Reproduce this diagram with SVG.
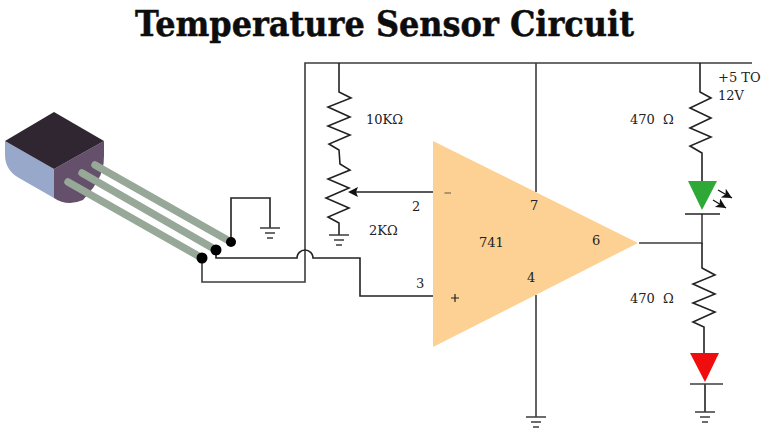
<svg xmlns="http://www.w3.org/2000/svg" width="773" height="431" viewBox="0 0 773 431">
<style>
.w{fill:none;stroke:#222;stroke-width:1.6}
.g{fill:none;stroke:#3c3c3c;stroke-width:1.6}
.t{font-family:"DejaVu Serif","Liberation Serif",serif;font-size:13px;fill:#222;white-space:pre}
.lead{stroke:#97a899;stroke-width:7.500;stroke-linecap:round}
.ar{stroke:#111;stroke-width:1.300;marker-end:url(#ah)}
</style>
<defs>
<marker id="ah" markerUnits="userSpaceOnUse" markerWidth="12" markerHeight="12" refX="10" refY="5" orient="auto"><path d="M0 0L10 5L0 10L2.500 5Z" fill="#111"/></marker>
<g id="gnd"><path class="g" d="M-10 0H10M-5 5H5M-3 10H3"/></g>
</defs>
<rect width="773" height="431" fill="#fff"/>
<text id="title" x="384.500" y="36" text-anchor="middle" textLength="499" lengthAdjust="spacingAndGlyphs" style="font-family:'DejaVu Serif','Liberation Serif',serif;font-weight:700;font-size:36px;fill:#0d0d0d;stroke:#0d0d0d;stroke-width:0.500">Temperature Sensor Circuit</text>
<g id="connectors">
<path class="g" d="M202 258V282H305V63H752"/>
<path class="w" d="M216 250V258H297A8 8 0 0 1 313 258H360V296H433"/>
<path class="w" d="M231 242V198H270V228"/>
<path class="w" d="M339 63V92L351 98L328 107L350 117L328 126L350 135L329 144L339 150L340 164L350 170L328 179L349 188L326 198L349 208L328 217L339 223V235"/>
<path class="w" d="M433 192H352"/>
<path d="M348 192L358 187L356 192L358 197Z" fill="#111"/>
<path class="g" d="M536 63V192"/>
<path class="g" d="M536 295V417"/>
<path class="w" d="M700 63V92L711 98L690 108L711 118L690 128L711 137L690 146L702 153V181"/>
<path class="g" d="M639 243H702V214"/>
<path class="w" d="M702 243V268L715 275L693 284L715 294L693 303L715 312L693 322L704 327V353"/>
<path class="w" d="M705 384V412"/>
</g>
<g id="sensor">
<path d="M5 141L54 169V198L19 178Q5 170 5 155Z" fill="#98a8cb"/>
<path d="M54 169L104 141V156Q104 170 98 180L93 188L83 200Q76 203 70 203Q61 203 54 198Z" fill="#64506a"/>
<path d="M54 112L104 141L54 169L5 141Z" fill="#302632"/>
<path class="lead" d="M95 165L231 242M82 173L216 250M68 182L202 258"/>
<circle cx="231" cy="242" r="5" fill="#000"/>
<circle cx="216" cy="250" r="5.500" fill="#000"/>
<circle cx="202" cy="258" r="5.500" fill="#000"/>
<use href="#gnd" x="270" y="228"/>
</g>
<g id="potentiometer">
<use href="#gnd" x="339" y="235"/>
<text class="t" x="366" y="124">10KΩ</text>
<text class="t" x="369" y="235">2KΩ</text>
</g>
<g id="opamp">
<path d="M433 141L638 243L433 347Z" fill="#fdd193"/>
<path d="M444.500 193H451" stroke="#7a6a50" stroke-width="1.200"/>
<path d="M451 298H459M455 294V302" stroke="#222" stroke-width="1.200"/>
<text class="t" x="412" y="211">2</text>
<text class="t" x="416" y="288">3</text>
<text class="t" x="530" y="210">7</text>
<text class="t" x="527" y="282">4</text>
<text class="t" x="592" y="245">6</text>
<text class="t" x="479" y="247">741</text>
<use href="#gnd" x="536" y="417"/>
</g>
<g id="green-led">
<path d="M688 181H717L702 210Z" fill="#2ea836"/>
<path class="w" d="M685 214H720"/>
<path class="ar" d="M718 190L732 198"/>
<path class="ar" d="M713 200L726 208"/>
<text class="t" x="630" y="124">470  Ω</text>
<text class="t" x="718" y="82">+5 TO</text>
<text class="t" x="718" y="100">12V</text>
</g>
<g id="red-led">
<path d="M690 353H719L705 382Z" fill="#f00d0d"/>
<path class="g" d="M690 384H723"/>
<use href="#gnd" x="705" y="412"/>
<text class="t" x="630" y="303">470  Ω</text>
</g>
</svg>
